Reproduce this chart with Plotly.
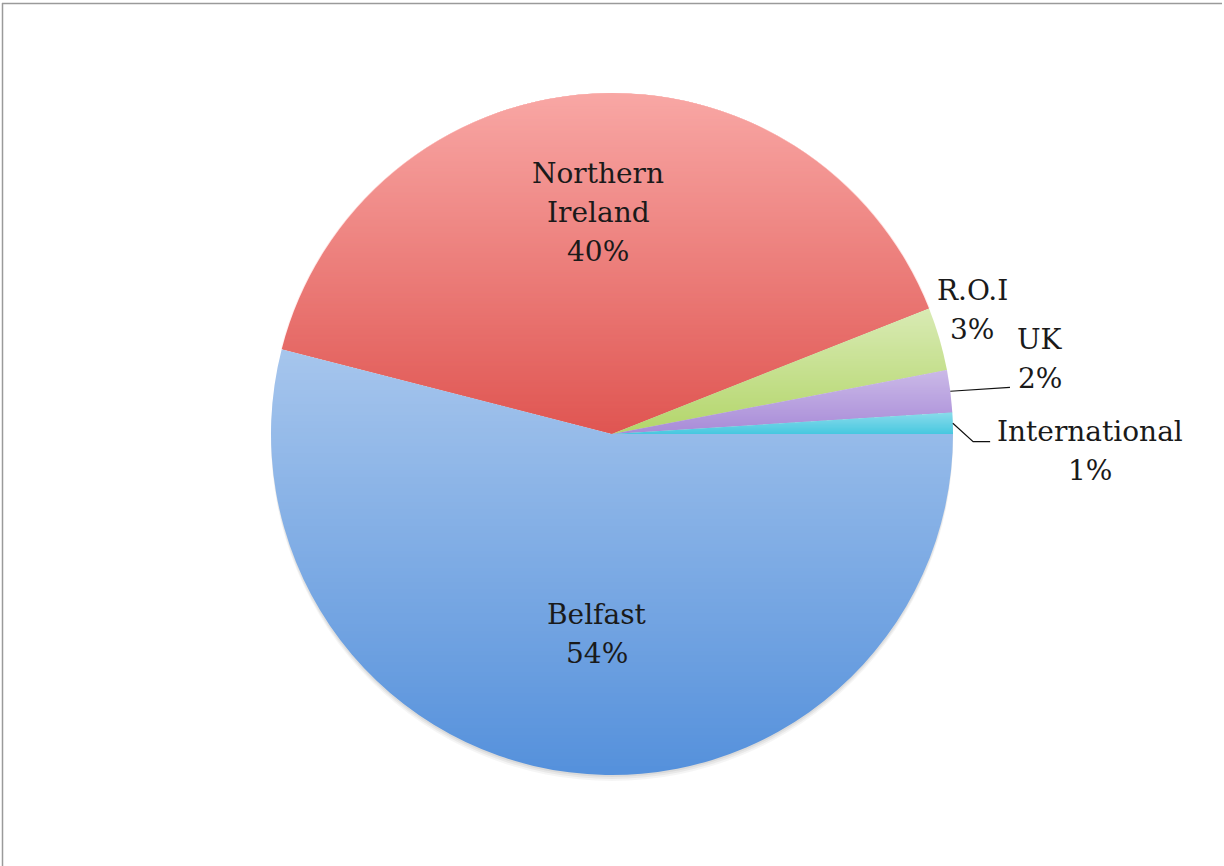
import numpy as np
import plotly.graph_objects as go

# ---- data -------------------------------------------------------------
labels = ["Belfast", "Northern Ireland", "R.O.I", "UK", "International"]
label_lines = [["Belfast"], ["Northern", "Ireland"], ["R.O.I"], ["UK"], ["International"]]
shares = [54, 40, 3, 2, 1]

# ---- style ------------------------------------------------------------
base_colors = ["#5591dc", "#e05652", "#b3d66a", "#a88bd8", "#48c8e0"]
# wash colour and its strength at the top of each slice (fades to 0 at bottom)
wash_colors = [(255, 255, 255), (255, 190, 188), (255, 255, 255), (255, 255, 255), (255, 255, 255)]
top_lift = [0.48, 0.78, 0.50, 0.40, 0.35]
# label placement: radial factor and angular nudge (deg) from slice mid-angle
label_r = [0.588, 0.652, 1.117, 1.274, 1.403]
label_dphi = [-2.9, 0.0, -2.8, -2.7, 3.8]
# leader-line waypoints relative to label anchor (px); None = no leader
leaders = [None, None, None, [(-30, 28)], [(-117, -9), (-100, -9)]]

W, H = 1224, 866
CX, CY, R = 612, 434, 341
FONT = "DejaVu Serif"
FSIZE = 28
LINE = 39


def px(x):
    return x / W


def py(y):
    return 1 - y / H


fig = go.Figure(go.Pie(
    labels=labels,
    values=shares,
    sort=False,
    direction="clockwise",
    rotation=90,
    textinfo="none",
    hoverinfo="label+percent",
    marker=dict(colors=base_colors, line=dict(width=0)),
    domain=dict(x=[px(CX - R), px(CX + R)], y=[py(CY + R), py(CY - R)]),
    showlegend=False,
))

# slice angular edges, clockwise from 3 o'clock (screen coords)
total = float(sum(shares))
edges = np.concatenate([[0.0], np.cumsum(shares) / total * 360.0])
mids = (edges[:-1] + edges[1:]) / 2
n_sl = len(shares)


def slice_of(x, y):
    phi = np.degrees(np.arctan2(y - CY, x - CX)) % 360
    return int(np.clip(np.searchsorted(edges, phi, side="right") - 1, 0, n_sl - 1))


# ---- vertical gradient wash over each slice, one pixel row at a time --
rows = []
for y0 in range(CY - R - 1, CY + R + 1):
    yc = y0 + 0.5
    dy = yc - CY
    if abs(dy) >= R:
        continue
    hw = np.sqrt(R * R - dy * dy)
    xl, xr = CX - hw, CX + hw
    cuts = [xl, xr]
    for th in np.radians(edges[:-1]):
        s = np.sin(th)
        if abs(s) < 1e-9 or np.sign(s) != np.sign(dy):
            continue
        xc = CX + dy * np.cos(th) / s
        if xl < xc < xr:
            cuts.append(xc)
    cuts = sorted(cuts)
    runs = []
    for a, b in zip(cuts[:-1], cuts[1:]):
        if b - a < 1e-6:
            continue
        runs.append([slice_of((a + b) / 2, yc), a, b])
    rows.append((y0, runs))

ytop = [np.inf] * n_sl
ybot = [-np.inf] * n_sl
for y0, runs in rows:
    for s, _, _ in runs:
        ytop[s] = min(ytop[s], y0)
        ybot[s] = max(ybot[s], y0 + 1)

shapes = []
# soft shadow under the pie
for off, op in [(2, 0.06), (4, 0.05), (6, 0.04)]:
    shapes.append(dict(type="circle", xref="paper", yref="paper", layer="below",
                       x0=px(CX - R), x1=px(CX + R), y0=py(CY + R + off), y1=py(CY - R + off),
                       fillcolor=f"rgba(0,0,0,{op})", line=dict(width=0)))

for y0, runs in rows:
    for j, (s, xa, xb) in enumerate(runs):
        t = (ybot[s] - (y0 + 0.5)) / (ybot[s] - ytop[s])
        op = top_lift[s] * max(0.0, min(1.0, t))
        if op < 0.01:
            continue
        if j == 0:
            xa -= 1
        if j == len(runs) - 1:
            xb += 1
        r_, g_, b_ = wash_colors[s]
        shapes.append(dict(type="rect", xref="paper", yref="paper", layer="above",
                           x0=px(xa), x1=px(xb), y0=py(y0 + 1), y1=py(y0),
                           fillcolor=f"rgba({r_},{g_},{b_},{op:.3f})", line=dict(width=0)))

# ---- labels and leader lines -----------------------------------------
annotations = []
for i, lines in enumerate(label_lines):
    a = np.radians(mids[i] + label_dphi[i])
    ax = CX + label_r[i] * R * np.cos(a)
    ay = CY + label_r[i] * R * np.sin(a)
    texts = lines + [f"{shares[i]}%"]
    n = len(texts)
    for k, t in enumerate(texts):
        yy = ay + (k - (n - 1) / 2) * LINE
        annotations.append(dict(x=px(ax), y=py(yy), xref="paper", yref="paper",
                                text=t, showarrow=False, xanchor="center", yanchor="middle",
                                font=dict(family=FONT, size=FSIZE, color="#1a1a1a")))
    if leaders[i]:
        am = np.radians(mids[i])
        pts = [(CX + R * np.cos(am), CY + R * np.sin(am))]
        pts += [(ax + dx, ay + dy) for dx, dy in leaders[i]]
        path = "M " + " L ".join(f"{px(x):.5f},{py(y):.5f}" for x, y in pts)
        shapes.append(dict(type="path", xref="paper", yref="paper", layer="above",
                           path=path, line=dict(color="#111111", width=1.2)))

# page frame
shapes.append(dict(type="line", xref="paper", yref="paper", x0=px(2), x1=px(1222),
                   y0=py(3.5), y1=py(3.5), line=dict(color="#9a9a9a", width=1.5)))
shapes.append(dict(type="line", xref="paper", yref="paper", x0=px(2.5), x1=px(2.5),
                   y0=py(3), y1=py(866), line=dict(color="#9a9a9a", width=1.5)))

fig.update_layout(
    width=W, height=H,
    margin=dict(l=0, r=0, t=0, b=0),
    paper_bgcolor="white", plot_bgcolor="white",
    shapes=shapes, annotations=annotations,
)

fig.write_html("out.html")
